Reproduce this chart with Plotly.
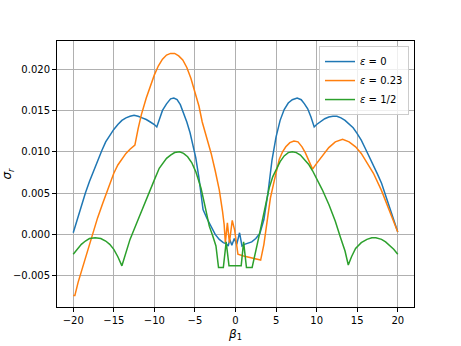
import plotly.graph_objects as go

# eps = 0
beta_eps0 = [-20, -19.5, -19, -18.5, -18, -17.5, -17, -16.5, -16, -15.5, -15, -14.5, -14, -13.5,
             -13, -12.5, -12, -11.5, -11, -10.5, -10, -9.7, -9.4, -9.0, -8.5, -8.0, -7.6, -7.2,
             -6.8, -6.4, -6.0, -5.6, -5.3, -4.9, -4.5, -4.2, -4.0, -3.5, -3.0, -2.5, -2.0, -1.5,
             -1.2, -0.9, -0.7, -0.45, -0.15, 0.15, 0.5, 0.8, 1.1, 1.5, 2.0, 2.5, 3.0, 3.5, 4.0,
             4.5, 5.0, 5.5, 6.0, 6.5, 7.0, 7.6, 8.1, 8.5, 8.9, 9.3, 9.7, 10.0, 10.5, 11, 11.5,
             12, 12.5, 13, 13.5, 14, 14.5, 15, 15.5, 16, 16.5, 17, 17.5, 18, 18.5, 19, 19.5, 20]
sigma_eps0 = [0.0002, 0.0019, 0.0035, 0.0050, 0.0064, 0.0077, 0.0090, 0.0101, 0.0112, 0.0120,
              0.0127, 0.0133, 0.0138, 0.0141, 0.0143, 0.0144, 0.0143, 0.0141, 0.0139, 0.0136,
              0.0133, 0.0130, 0.0139, 0.0150, 0.0158, 0.0164, 0.0165, 0.0163, 0.0157, 0.0147,
              0.0136, 0.0123, 0.0111, 0.0093, 0.0068, 0.0045, 0.0030, 0.0019, 0.0009, 0.0000,
              -0.0006, -0.0010, -0.0011, -0.0014, -0.0006, -0.0013, -0.0005, -0.0012, 0.0002,
              -0.0014, -0.0012, -0.0011, -0.0009, -0.0005, 0.0001, 0.0018, 0.0050, 0.0090,
              0.0118, 0.0138, 0.0151, 0.0159, 0.0163, 0.0165, 0.0163, 0.0158, 0.0152, 0.0142,
              0.0130, 0.0133, 0.0137, 0.0140, 0.0142, 0.0143, 0.0143, 0.0141, 0.0138, 0.0134,
              0.0129, 0.0122, 0.0114, 0.0104, 0.0094, 0.0083, 0.0073, 0.0062, 0.0047, 0.0032,
              0.0018, 0.0003]

# eps = 0.23
beta_eps023 = [-20, -19.8, -19.4, -19, -18.5, -18, -17.65, -17, -16.35, -15.5, -15, -14.5, -14,
               -13.5, -13, -12.4, -12.0, -11.6, -11, -10.5, -10, -9.5, -9.0, -8.5, -8.0, -7.5,
               -7.0, -6.5, -6.0, -5.5, -5.0, -4.5, -4.1, -3.5, -3.0, -2.5, -2.0, -1.6, -1.4,
               -1.25, -1.0, -0.75, -0.4, -0.1, 0.1, 0.3, 1.0, 2.0, 3.1, 3.5, 3.8, 4.3, 4.8, 5.4,
               5.8, 6.2, 6.7, 7.2, 7.7, 8.2, 8.6, 9.0, 9.5, 10.0, 10.7, 11.5, 12.3, 13.2, 14,
               14.8, 15.5, 16.2, 17, 18, 19, 20]
sigma_eps023 = [-0.0074, -0.0074, -0.0058, -0.0045, -0.0029, -0.0013, 0.0000, 0.0020, 0.0038,
                0.0061, 0.0074, 0.0084, 0.0091, 0.0098, 0.0103, 0.0108, 0.0128, 0.0145, 0.0165,
                0.0180, 0.0193, 0.0204, 0.0212, 0.0217, 0.0219, 0.0219, 0.0216, 0.0211, 0.0202,
                0.0189, 0.0173, 0.0155, 0.0136, 0.0116, 0.0098, 0.0077, 0.0054, 0.0028, 0.0012,
                -0.0010, 0.0014, -0.0010, 0.0017, 0.0005, -0.0010, -0.0024, -0.0026, -0.0028,
                -0.0031, -0.0012, 0.0008, 0.0044, 0.0066, 0.0091, 0.0100, 0.0106, 0.0111, 0.0113,
                0.0112, 0.0106, 0.0099, 0.0091, 0.0079, 0.0086, 0.0095, 0.0105, 0.0112, 0.0115,
                0.0112, 0.0106, 0.0098, 0.0087, 0.0074, 0.0053, 0.0028, 0.0003]

# eps = 1/2
beta_eps05 = [-20, -19.5, -19, -18.5, -18, -17.3, -16.6, -16, -15.5, -15, -14.5, -14.0, -13.5,
              -13.0, -12, -11, -10, -9.4, -9.0, -8.5, -8.0, -7.5, -6.9, -6.4, -5.9, -5.4, -4.9,
              -4.25, -3.8, -3.23, -2.8, -2.41, -2.09, -1.5, -1.15, -0.8, 0.7, 1.0, 1.35, 2.05,
              2.9, 3.5, 4.15, 4.6, 5.0, 5.5, 6.0, 6.5, 7.0, 7.5, 8.0, 8.5, 9.0, 9.5, 10.08,
              10.7, 11.52, 12.3, 12.95, 13.5, 13.9, 14.3, 14.8, 15.5, 16.2, 16.8, 17.3, 18,
              18.5, 19, 19.5, 20]
sigma_eps05 = [-0.0024, -0.0018, -0.0012, -0.0008, -0.0005, -0.0004, -0.0005, -0.0008, -0.0012,
               -0.0018, -0.0027, -0.0038, -0.0022, -0.0006, 0.0018, 0.0043, 0.0066, 0.0080,
               0.0086, 0.0092, 0.0096, 0.0099, 0.0100, 0.0098, 0.0094, 0.0087, 0.0076, 0.0056,
               0.0036, 0.0010, -0.0002, -0.0014, -0.0040, -0.0040, -0.0009, -0.0038, -0.0038,
               -0.0009, -0.0040, -0.0040, -0.0002, 0.0024, 0.0056, 0.0070, 0.0079, 0.0088,
               0.0095, 0.0099, 0.0100, 0.0099, 0.0096, 0.0091, 0.0085, 0.0077, 0.0066, 0.0054,
               0.0036, 0.0016, -0.0004, -0.0020, -0.0037, -0.0027, -0.0017, -0.0010, -0.0006,
               -0.0004, -0.0004, -0.0006, -0.0009, -0.0013, -0.0018, -0.0024]

series = [
    ("<i>ε</i> = 0", beta_eps0, sigma_eps0, "#1f77b4"),
    ("<i>ε</i> = 0.23", beta_eps023, sigma_eps023, "#ff7f0e"),
    ("<i>ε</i> = 1/2", beta_eps05, sigma_eps05, "#2ca02c"),
]

fig = go.Figure()
for name, xs, ys, col in series:
    fig.add_trace(go.Scatter(x=xs, y=ys, mode="lines", name=name,
                             line=dict(color=col, width=1.5)))

axis_style = dict(
    automargin=False,
    showline=True, mirror=True, linecolor="black", linewidth=1,
    ticks="outside", ticklen=4, tickcolor="black", tickwidth=1,
    showgrid=True, gridcolor="#b0b0b0", gridwidth=0.8, zeroline=False,
    tickfont=dict(family="DejaVu Sans", size=10, color="black"),
)

fig.update_layout(
    width=461, height=346,
    margin=dict(l=57, r=47, t=41, b=39),
    paper_bgcolor="white", plot_bgcolor="white",
    font=dict(family="DejaVu Sans", size=10, color="black"),
    xaxis=dict(range=[-22, 22], tickmode="array", tickvals=[-20, -15, -10, -5, 0, 5, 10, 15, 20],
               title=dict(text="<i>β</i><sub>1</sub>", standoff=4), **axis_style),
    yaxis=dict(range=[-0.00878, 0.0234], tickmode="array",
               tickvals=[-0.005, 0, 0.005, 0.010, 0.015, 0.020], tickformat=".3f",
               title=dict(text="<i>σ</i><sub><i>r</i></sub>", standoff=8), **axis_style),
    legend=dict(x=0.986, y=0.981, xanchor="right", yanchor="top", itemwidth=30,
                bgcolor="rgba(255,255,255,0.8)", bordercolor="#cccccc", borderwidth=1,
                font=dict(family="DejaVu Sans", size=10)),
    showlegend=True,
)

# the page's default body margin would shift the figure by 8px
fig.write_html("out.html", config={"displayModeBar": False},
               post_script="document.body.style.margin = '0';")
